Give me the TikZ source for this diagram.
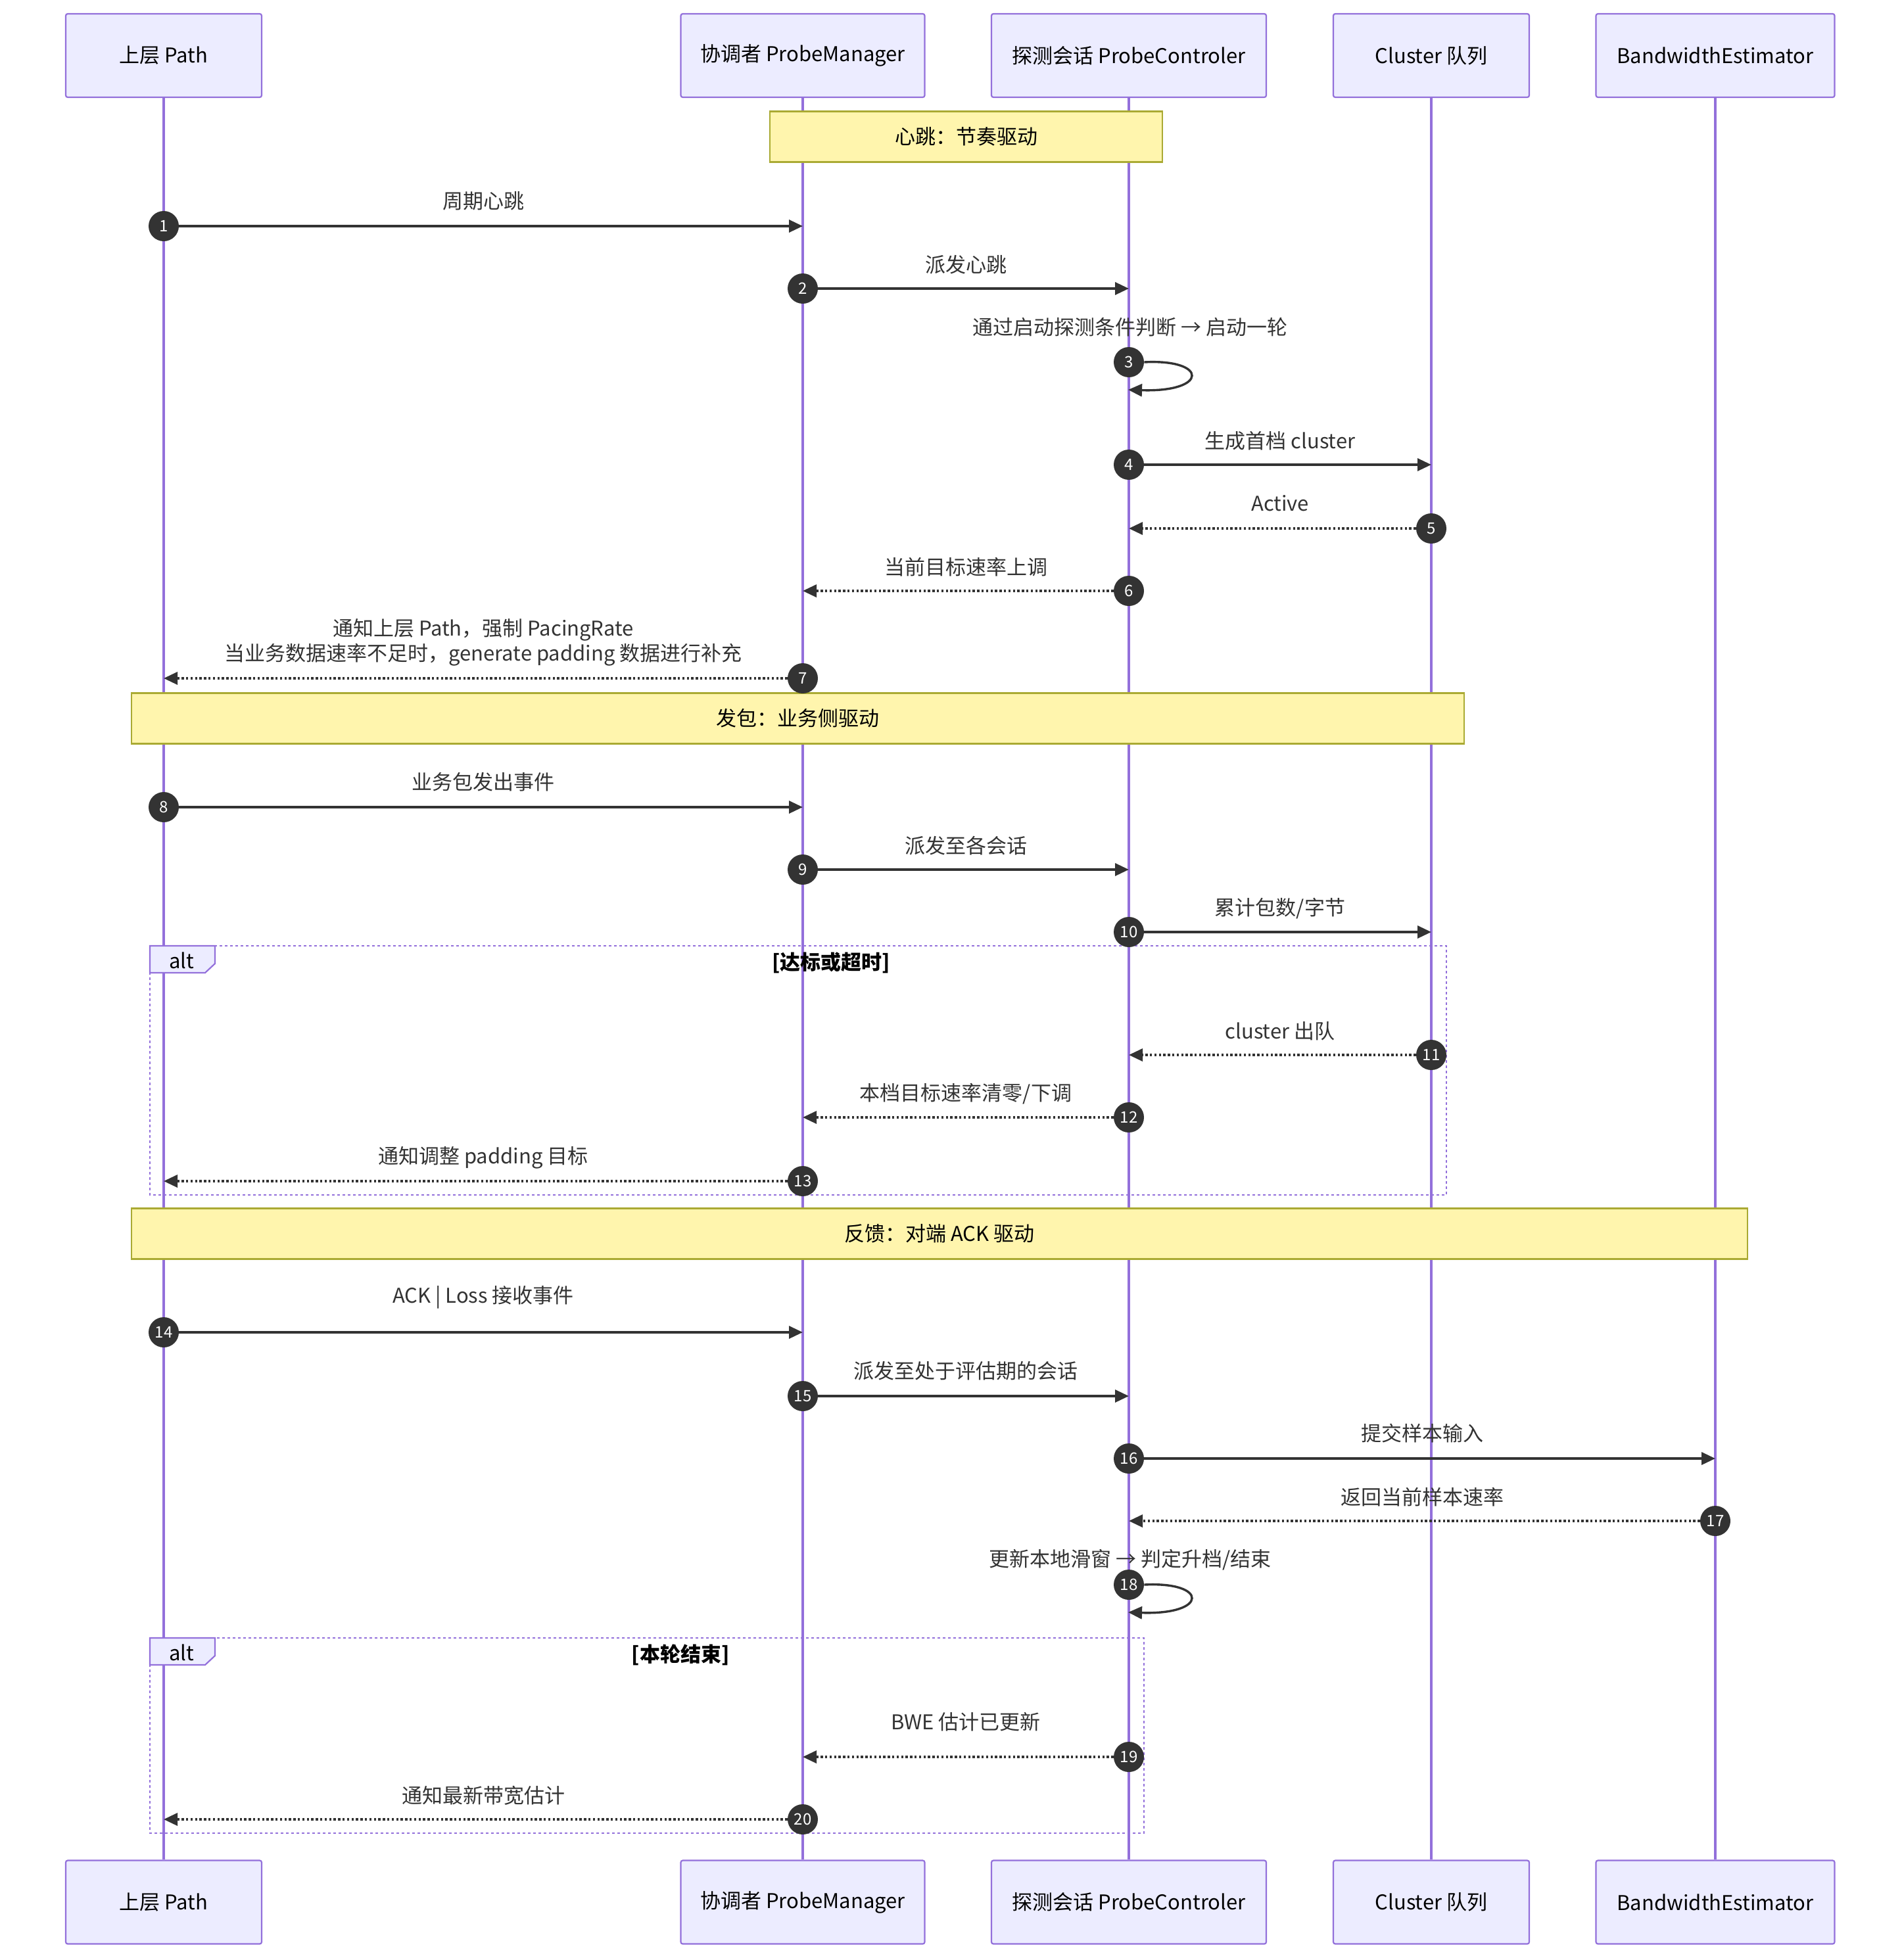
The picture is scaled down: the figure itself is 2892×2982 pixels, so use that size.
\documentclass[tikz,border=0pt]{standalone}
\usepackage{fontspec}
\setmainfont{Noto Sans CJK SC}
\usepackage{xcolor}
\usepackage{tikz}
\usetikzlibrary{arrows.meta}

\definecolor{actorfill}{HTML}{ECECFF}
\definecolor{actorline}{HTML}{9370DB}
\definecolor{notefill}{HTML}{FFF5AD}
\definecolor{noteline}{HTML}{AAAA33}
\definecolor{msgcol}{HTML}{333333}

\begin{document}
\begin{tikzpicture}[
			x=0.5pt, y=-0.5pt,
			actor/.style    = {draw=actorline, fill=actorfill, line width=1.1pt, rounded corners=1.5pt, minimum height=63.5pt, font=\fontsize{15.5}{19}\selectfont},
			life/.style     = {draw=actorline, line width=1.7pt},
			note/.style     = {draw=noteline, fill=notefill, line width=1.1pt, minimum height=38.5pt, font=\fontsize{15.5}{19}\selectfont},
			msg/.style      = {draw=msgcol, line width=1.7pt, -{Triangle[length=10.5pt,width=9.5pt]}},
			reply/.style    = {msg, dash pattern=on 1.7pt off 1.7pt},
			seqnum/.style   = {circle, fill=msgcol, text=white, minimum size=23pt, inner sep=0pt, font=\fontsize{12}{12}\selectfont},
			msglabel/.style = {text=msgcol, align=center, font=\fontsize{15.5}{19}\selectfont},
			altframe/.style = {draw=actorline, line width=1.4pt, dash pattern=on 2pt off 2pt},
			alttab/.style   = {draw=actorline, fill=actorfill, line width=1.1pt},
			altlabel/.style = {font=\fontsize{15.5}{19}\selectfont}
			]
			\fill[white] (0,0) rectangle (2892,2982);
			\useasboundingbox (0,0) rectangle (2892,2982);

			% actors, top and bottom
			\foreach \name/\x/\w/\txt in {path/249/149/上层 Path, mgr/1221/185.5/协调者 ProbeManager, ctl/1717/209/探测会话 ProbeControler, clu/2177/149/Cluster 队列, bwe/2609/181.5/BandwidthEstimator} {
					\node[actor, minimum width=\w pt] (\name) at (\x,84.5) {\txt};
					\node[actor, minimum width=\w pt] (\name-b) at (\x,2894) {\txt};
					\draw[life] (\name.south) -- (\name-b.north);
				}

			% notes
			\node[note, minimum width=298.5pt] (hb) at (1469.5,208) {心跳：节奏驱动};
			\node[note, minimum width=1013.5pt] (send) at (1213.5,1093) {发包：业务侧驱动};
			\node[note, minimum width=1229pt] (fb) at (1429,1877) {反馈：对端 ACK 驱动};

			% alt frames
			\draw[altframe] (228,1439) rectangle (2200,1818);
			\draw[alttab] (228,1439) -- (327,1439) -- (327,1466) -- (312,1480) -- (228,1480) -- cycle;
			\node[altlabel] (alt1) at (276,1461) {alt};
			\node[altlabel, font=\bfseries\fontsize{15.5}{19}\selectfont] (cond1) at (1264,1465) {[达标或超时]};

			\draw[altframe] (228,2492) rectangle (1740,2789);
			\draw[alttab] (228,2492) -- (327,2492) -- (327,2519) -- (312,2533) -- (228,2533) -- cycle;
			\node[altlabel] (alt2) at (276,2514) {alt};
			\node[altlabel, font=\bfseries\fontsize{15.5}{19}\selectfont] (cond2) at (1035,2518) {[本轮结束]};

			% messages
			\foreach \n/\xa/\xb/\y/\ly/\kind/\txt in {
					1/249/1221/344/306/msg/周期心跳,
					2/1221/1717/439/403/msg/派发心跳,
					4/1717/2177/707/671/msg/生成首档 cluster,
					5/2177/1717/804/766/reply/Active,
					6/1717/1221/899/863/reply/当前目标速率上调,
					7/1221/249/1032/977/reply/{通知上层 Path，强制 PacingRate\\当业务数据速率不足时，generate padding 数据进行补充},
					8/249/1221/1228/1190/msg/业务包发出事件,
					9/1221/1717/1323/1287/msg/派发至各会话,
					10/1717/2177/1418/1382/msg/{累计包数/字节},
					11/2177/1717/1605/1569/reply/cluster 出队,
					12/1717/1221/1700/1664/reply/{本档目标速率清零/下调},
					13/1221/249/1797/1761/reply/通知调整 padding 目标,
					14/249/1221/2027/1974/msg/ACK | Loss 接收事件,
					15/1221/1717/2124/2086/msg/派发至处于评估期的会话,
					16/1717/2609/2219/2181/msg/提交样本输入,
					17/2609/1717/2314/2278/reply/返回当前样本速率,
					19/1717/1221/2673/2620/reply/BWE 估计已更新,
					20/1221/249/2768/2732/reply/通知最新带宽估计} {
					\node[seqnum] (n\n) at (\xa,\y) {\n};
					\coordinate (t\n) at (\xb,\y);
					\draw[\kind] (n\n) -- (t\n);
					\node[msglabel] (l\n) at ({(\xa+\xb)/2},\ly) {\txt};
				}

			% self calls
			\node[seqnum] (n3) at (1717,551) {3};
			\coordinate (t3) at (1716,593);
			\draw[msg] (n3.east) .. controls (1838,546) and (1838,597) .. (t3);
			\node[msglabel] (l3) at (1719,498) {通过启动探测条件判断 → 启动一轮};

			\node[seqnum] (n18) at (1717,2411) {18};
			\coordinate (t18) at (1716,2453);
			\draw[msg] (n18.east) .. controls (1838,2406) and (1838,2457) .. (t18);
			\node[msglabel] (l18) at (1719,2373) {更新本地滑窗 → 判定升档/结束};
		\end{tikzpicture}
\end{document}
